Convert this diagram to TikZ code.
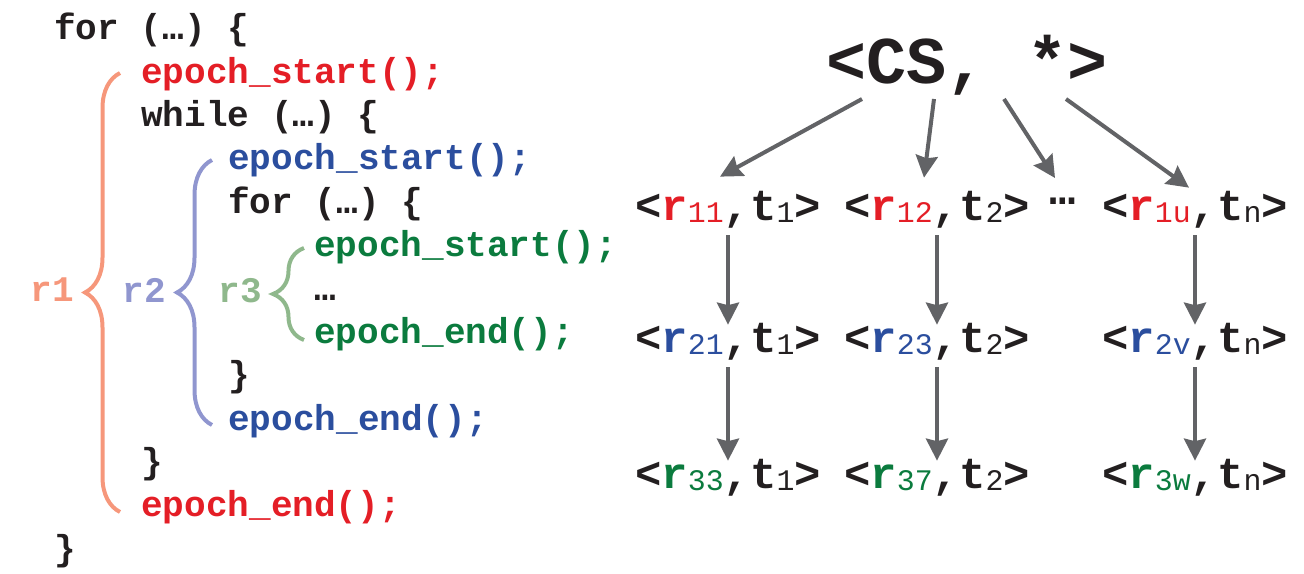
\documentclass[tikz,border=0pt]{standalone}
\usepackage{fontspec}
\setmonofont{Liberation Mono}
\usetikzlibrary{positioning,calc,arrows.meta,decorations.pathreplacing}

\definecolor{cred}{HTML}{E41E26}
\definecolor{cblue}{HTML}{2B4E9E}
\definecolor{cgreen}{HTML}{0B7B3E}
\definecolor{bred}{HTML}{F6977B}
\definecolor{bblue}{HTML}{9096CF}
\definecolor{bgreen}{HTML}{8FB88C}
\definecolor{agray}{HTML}{626366}
\definecolor{ink}{HTML}{231F20}

\newcommand{\lowsub}[1]{\raisebox{-0.05cm}{\fontsize{17}{17}\selectfont\mdseries #1}}
\newcommand{\tup}[3]{<\textcolor{#1}{r\lowsub{#2}},t\lowsub{#3}>}

\tikzset{
  code/.style={anchor=base west, inner sep=0pt, text=ink, font=\ttfamily\bfseries\fontsize{20.5}{20.5}\selectfont},
  tup/.style={anchor=base, inner xsep=0pt, inner ysep=0.1cm, text height=0.44cm, text depth=0.2cm, text=ink, font=\ttfamily\bfseries\fontsize{25}{25}\selectfont},
  arr/.style={-{Stealth[length=0.44cm,width=0.44cm,inset=0.05cm]}, line width=0.08cm, agray},
  brc/.style={decorate, decoration={brace, amplitude=#1}, line width=0.08cm},
  lab/.style={inner sep=0pt, font=\ttfamily\bfseries\fontsize{20.5}{20.5}\selectfont}
}

\begin{document}
\begin{tikzpicture}[x=0.02cm, y=-0.02cm]
\useasboundingbox (0,0) rectangle (1304,574);

% code on the left
\node[code] (c0) at (54,40) {for (…) \{};
\node[code,cred] (c1) at (141,83.3) {epoch\_start();};
\node[code] (c2) at (141,126.7) {while (…) \{};
\node[code,cblue] (c3) at (228,170) {epoch\_start();};
\node[code] (c4) at (228,213.3) {for (…) \{};
\node[code,cgreen] (c5) at (314,256.7) {epoch\_start();};
\node[code] (c6) at (314,300) {…};
\node[code,cgreen] (c7) at (314,343.3) {epoch\_end();};
\node[code] (c8) at (228,386.7) {\}};
\node[code,cblue] (c9) at (228,430) {epoch\_end();};
\node[code] (c10) at (141,473.3) {\}};
\node[code,cred] (c11) at (141,516.7) {epoch\_end();};
\node[code] (c12) at (54,560) {\}};

% braces
\draw[brc=0.7cm,bred] (120,512) -- (120,73);
\draw[brc=0.7cm,bblue] (212,425) -- (212,160);
\draw[brc=0.62cm,bgreen] (304,340) -- (304,248);
\coordinate (tip1) at (85,290);
\coordinate (tip2) at (177,290);
\coordinate (tip3) at (273,291);
\node[lab,bred,left=0.22cm of tip1] (r1) {r1};
\node[lab,bblue,left=0.22cm of tip2] (r2) {r2};
\node[lab,bgreen,left=0.22cm of tip3] (r3) {r3};

% tuples on the right
\node[anchor=base, inner sep=0pt, text=ink, font=\ttfamily\bfseries\fontsize{38}{38}\selectfont] (cs) at (967,84) {<CS, *>};
\node[tup] (t11) at (728,220) {\tup{cred}{11}{1}};
\node[tup] (t12) at (937,220) {\tup{cred}{12}{2}};
\node[anchor=base, inner sep=0pt, text=ink, font=\ttfamily\bfseries\fontsize{25}{25}\selectfont] (dots) at (1063,205) {…};
\node[tup] (t1u) at (1195,220) {\tup{cred}{1u}{n}};
\node[tup] (t21) at (728,352) {\tup{cblue}{21}{1}};
\node[tup] (t23) at (937,352) {\tup{cblue}{23}{2}};
\node[tup] (t2v) at (1195,352) {\tup{cblue}{2v}{n}};
\node[tup] (t33) at (728,488) {\tup{cgreen}{33}{1}};
\node[tup] (t37) at (937,488) {\tup{cgreen}{37}{2}};
\node[tup] (t3w) at (1195,488) {\tup{cgreen}{3w}{n}};

\draw[arr] ($(cs.base)+(-105,15)$) -- ($(t11.north)+(-8,-16)$);
\draw[arr] ($(cs.base)+(-33,15)$) -- ($(t12.north)+(-13,-15)$);
\draw[arr] ($(cs.base)+(37,15)$) -- ($(dots.base)+(-8,-27)$);
\draw[arr] ($(cs.base)+(99,15)$) -- ($(t1u.north)+(-6,-5)$);
\draw[arr] (t11) -- (t21);
\draw[arr] (t21) -- (t33);
\draw[arr] (t12) -- (t23);
\draw[arr] (t23) -- (t37);
\draw[arr] (t1u) -- (t2v);
\draw[arr] (t2v) -- (t3w);
\end{tikzpicture}
\end{document}
